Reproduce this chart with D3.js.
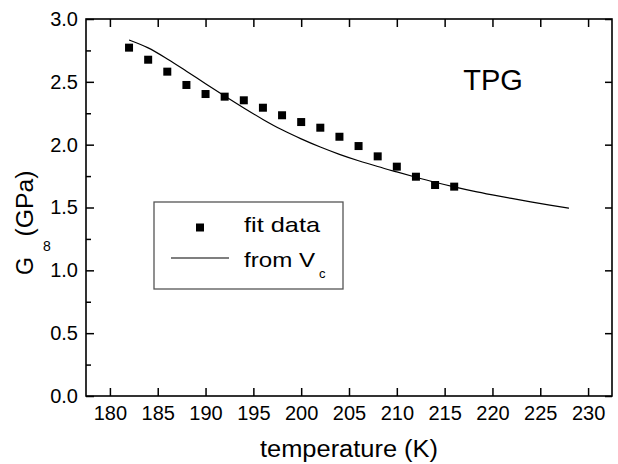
<!DOCTYPE html>
<html><head><meta charset="utf-8">
<script src="https://cdn.jsdelivr.net/npm/d3@7"></script>
<style>body{margin:0;background:#fff}svg{display:block}text{font-family:Arial,"Liberation Sans",sans-serif;fill:#000}</style>
</head><body>
<script>
const fitT = [182,184,186,188,190,192,194,196,198,200,202,204,206,208,210,212,214,216];
const fitG = [2.772,2.676,2.581,2.475,2.403,2.382,2.353,2.294,2.234,2.180,2.135,2.063,1.989,1.907,1.825,1.745,1.679,1.666];
const vcT = [182,184,186,188,190,192,194,196,198,200,202,204,206,208,210,212,214,216,218,220,222,224,226,228];
const vcG = [2.833,2.770,2.682,2.585,2.485,2.387,2.292,2.201,2.118,2.046,1.981,1.923,1.872,1.826,1.783,1.741,1.701,1.664,1.630,1.600,1.572,1.545,1.519,1.494];
const xTicks = [180,185,190,195,200,205,210,215,220,225,230];
const yTicks = [0,0.5,1.0,1.5,2.0,2.5,3.0];
const yMinor = [0.25,0.75,1.25,1.75,2.25,2.75];

(function(){
const W=618,H=464;
const svg=d3.select("body").append("svg").attr("width",W).attr("height",H);
const L=86,R=612,T=19,B=396;
const x=d3.scaleLinear().domain([177.5,232.5]).range([L,R]);
const y=d3.scaleLinear().domain([0,3]).range([B,T]);

const gBottom=svg.append("g").attr("transform",`translate(0,${B})`)
  .call(d3.axisBottom(x).tickValues(xTicks).tickSizeInner(-8).tickSizeOuter(0).tickPadding(10).tickFormat(d3.format("d")));
const gTop=svg.append("g").attr("transform",`translate(0,${T})`)
  .call(d3.axisTop(x).tickValues(xTicks).tickSizeInner(-8).tickSizeOuter(0).tickFormat(""));
const gLeft=svg.append("g").attr("transform",`translate(${L},0)`)
  .call(d3.axisLeft(y).tickValues(yTicks).tickSizeInner(-8).tickSizeOuter(0).tickPadding(8).tickFormat(d3.format(".1f")));
const gLeftMinor=svg.append("g").attr("transform",`translate(${L},0)`)
  .call(d3.axisLeft(y).tickValues(yMinor).tickSizeInner(-5).tickSizeOuter(0).tickFormat(""));
const gRight=svg.append("g").attr("transform",`translate(${R},0)`)
  .call(d3.axisRight(y).tickValues(yTicks).tickSizeInner(-7).tickSizeOuter(0).tickFormat(""));
[gBottom,gTop,gLeft,gLeftMinor,gRight].forEach(g=>{
  g.select(".domain").remove();
  g.selectAll("line").attr("stroke","#000").attr("stroke-width",1.5);
  g.selectAll("text").attr("font-size",20).attr("font-family","Arial, 'Liberation Sans', sans-serif").attr("fill","#000");
});
svg.append("rect").attr("x",L).attr("y",T).attr("width",R-L).attr("height",B-T)
  .attr("fill","none").attr("stroke","#000").attr("stroke-width",1.6);

const line=d3.line().x((d,i)=>x(vcT[i])).y(d=>y(d)).curve(d3.curveMonotoneX);
svg.append("path").datum(vcG).attr("d",line).attr("fill","none").attr("stroke","#000").attr("stroke-width",1.2);

svg.append("g").selectAll("rect").data(fitG).join("rect")
  .attr("x",(d,i)=>x(fitT[i])-4).attr("y",d=>y(d)-4).attr("width",8).attr("height",8).attr("fill","#000");

svg.append("text").attr("x",493).attr("y",90).attr("text-anchor","middle").attr("font-size",29).text("TPG");

svg.append("text").attr("x",349).attr("y",457).attr("text-anchor","middle").attr("font-size",23)
  .attr("textLength",178).attr("lengthAdjust","spacingAndGlyphs").text("temperature (K)");
svg.append("text").attr("transform","translate(33,266) rotate(-90)").attr("text-anchor","middle").attr("font-size",23).text("G");
svg.append("text").attr("transform","translate(33,203.5) rotate(-90)").attr("text-anchor","middle").attr("font-size",23)
  .attr("textLength",66).attr("lengthAdjust","spacingAndGlyphs").text("(GPa)");
svg.append("text").attr("x",47).attr("y",251).attr("text-anchor","middle").attr("font-size",14).text("8");

svg.append("rect").attr("x",154).attr("y",202).attr("width",189).attr("height",87)
  .attr("fill","#fff").attr("stroke","#555").attr("stroke-width",1.3);
svg.append("rect").attr("x",196).attr("y",223.5).attr("width",8).attr("height",8).attr("fill","#000");
svg.append("text").attr("x",244).attr("y",232).attr("font-size",21)
  .attr("textLength",76).attr("lengthAdjust","spacingAndGlyphs").text("fit data");
svg.append("line").attr("x1",171).attr("x2",229).attr("y1",258).attr("y2",258).attr("stroke","#000").attr("stroke-width",1.2);
svg.append("text").attr("x",244).attr("y",267).attr("font-size",21)
  .attr("textLength",71).attr("lengthAdjust","spacingAndGlyphs").text("from V");
svg.append("text").attr("x",319).attr("y",278).attr("font-size",13).text("c");
})();
</script>
</body></html>
